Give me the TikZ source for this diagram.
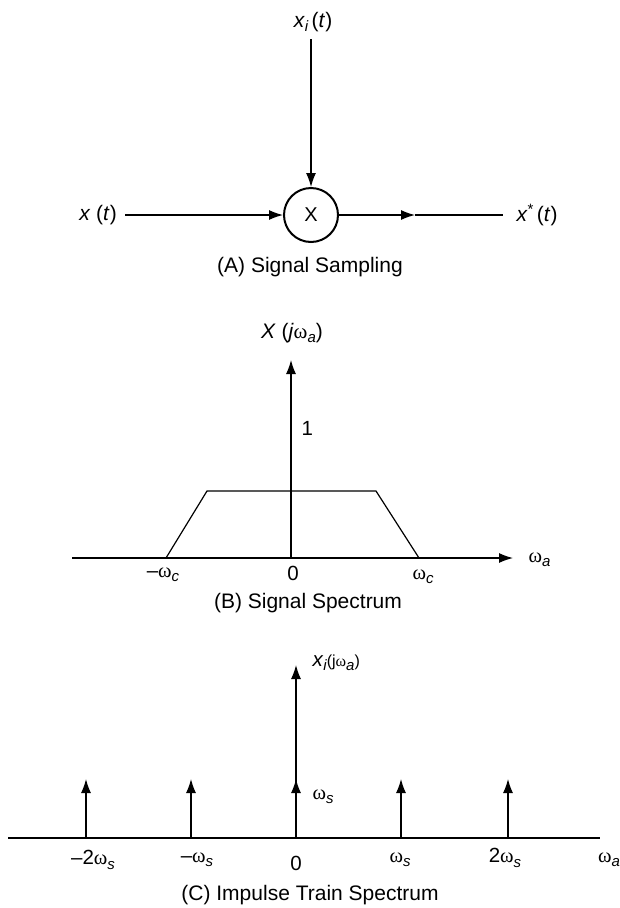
\documentclass[tikz,border=0pt]{standalone}
\usepackage{fontspec}
\setmainfont{Liberation Sans}
\newfontfamily\wfont{Liberation Serif}
\usetikzlibrary{arrows.meta}
\newcommand\om{{\wfont ω}}
\newcommand\mysub[1]{\raisebox{-0.4ex}{\fontsize{15}{15}\selectfont\itshape #1}}
\newcommand\mysup[1]{\raisebox{0.7ex}{\fontsize{15}{15}\selectfont #1}}
\begin{document}
\begin{tikzpicture}[x=1pt,y=-1pt,line width=1.2pt,
  >={Latex[length=14pt,width=10pt]},
  lbl/.style={inner sep=0pt,font=\fontsize{21}{25}\selectfont},
  slbl/.style={inner sep=0pt,font=\fontsize{20.5}{24}\selectfont}]
\useasboundingbox (0,0) rectangle (620,908);
% ---------- (A) ----------
\node[circle,draw,line width=2pt,minimum size=54pt,inner sep=0pt] (mul) at (311,215) {\fontsize{20}{20}\selectfont X};
\node[lbl] (xi) at (313,22) {\textit{x}\mysub{i}\,(\textit{t})};
\coordinate (xitop) at (311,39);
\draw[->] (xitop) -- (mul.north);
\node[lbl] (xin) at (98,215) {\textit{x} (\textit{t})};
\coordinate (xs) at (125,215);
\draw[->] (xs) -- (mul.west);
\coordinate (xmid) at (415,215);
\coordinate (xe) at (503,215);
\draw[->] (mul.east) -- (xmid);
\draw (xmid) -- (xe);
\node[lbl] (xstar) at (537,215) {\textit{x}\mysup{*}\,(\textit{t})};
\node[lbl] (capA) at (310,267) {(A) Signal Sampling};
% ---------- (B) ----------
\coordinate (Bo) at (291,558);
\coordinate (Bl) at (72,558);
\coordinate (Br) at (513,558);
\coordinate (Bt) at (291,360);
\draw[->] (Bl) -- (Br);
\draw[->] (Bo) -- (Bt);
\draw (166,558) -- (207,491) -- (376,491) -- (419,558);
\node[lbl] (XB) at (292,333) {\textit{X} (\textit{j}\om\mysub{a})};
\node[slbl,anchor=west] (one) at (301,428) {1};
\node[slbl] (mwc) at (163,575) {\textendash\om\mysub{c}};
\node[slbl] (zB) at (293,573) {0};
\node[slbl] (wc) at (423,577) {\om\mysub{c}};
\node[slbl,anchor=west] (waB) at (528,560) {\om\mysub{a}};
\node[lbl] (capB) at (308,603) {(B) Signal Spectrum};
% ---------- (C) ----------
\coordinate (Cl) at (8,838);
\coordinate (Cr) at (600,838);
\draw (Cl) -- (Cr);
\foreach \n/\xx in {m2/86,m1/191,z/296,p1/401,p2/508}{
  \coordinate (b\n) at (\xx,838);
  \coordinate (t\n) at (\xx,779);
  \draw[->] (b\n) -- (t\n);
}
\coordinate (ttop) at (296,665);
\draw[->] (bz) -- (ttop);
\node[slbl,anchor=west] (xiC) at (312,663) {\textit{x}\mysub{i}{\fontsize{16}{16}\selectfont(j\om\mysub{a})}};
\node[slbl,anchor=west] (wsC) at (312,797) {\om\mysub{s}};
\node[slbl] (lm2) at (93,860) {\textendash2\om\mysub{s}};
\node[slbl] (lm1) at (197,860) {\textendash\om\mysub{s}};
\node[slbl] (l0) at (296,863) {0};
\node[slbl] (lp1) at (400,860) {\om\mysub{s}};
\node[slbl] (lp2) at (505,858) {2\om\mysub{s}};
\node[slbl] (waC) at (609,860) {\om\mysub{a}};
\node[lbl] (capC) at (310,895) {(C) Impulse Train Spectrum};
\end{tikzpicture}
\end{document}
